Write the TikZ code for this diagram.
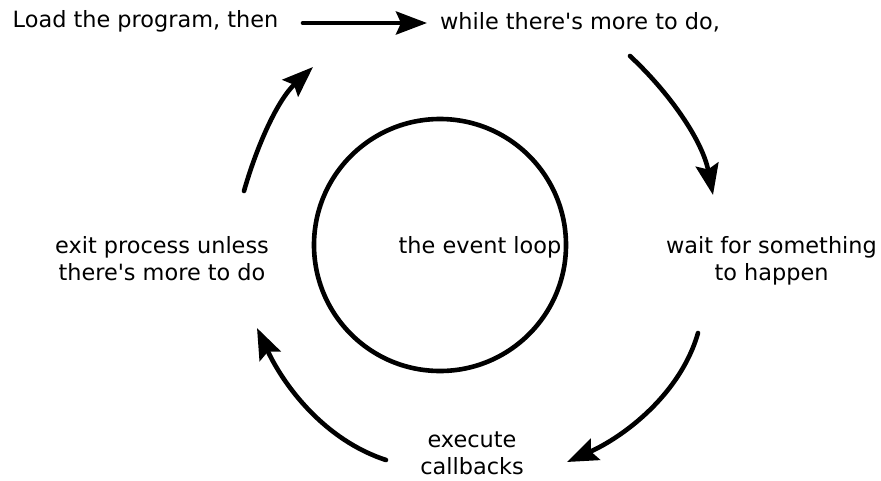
\documentclass[tikz,border=0pt]{standalone}
\usepackage{fontspec}
\setmainfont{DejaVu Sans}[Ligatures=TeXOff]
\usetikzlibrary{arrows.meta}

\begin{document}
\begin{tikzpicture}[y=1pt, x=1pt, yscale=-1, inner sep=0pt, outer sep=0pt,
  steplabel/.style={anchor=base, align=center,
    font=\fontsize{22.4}{27}\selectfont},
  looparrow/.style={line width=4.6pt, line cap=round,
    -{Stealth[length=31pt, width=23pt, inset=5pt]}}]
\useasboundingbox (0,0) rectangle (881,480);
\path (440,245) node[draw, circle, line width=4.6pt, minimum size=252pt] (loop) {};
\path (480,253) node[steplabel] (looptext) {the event loop};
\path (145.5,27) node[steplabel] (load) {Load the program, then};
\path (580,29) node[steplabel] (while) {while there's more to do,};
\path (771.5,280) node[steplabel] (wait) {wait for something\\to happen};
\path (472,474) node[steplabel] (execute) {execute\\callbacks};
\path (162,280) node[steplabel] (exit) {exit process unless\\there's more to do};
% arrow end points
\coordinate (a1) at (303,23);   \coordinate (b1) at (427,23);
\coordinate (a2) at (630,56);   \coordinate (b2) at (713,195);
\coordinate (a3) at (698,333);  \coordinate (b3) at (567,462);
\coordinate (a4) at (386,460);  \coordinate (b4) at (257,328);
\coordinate (a5) at (244,191);  \coordinate (b5) at (313,67);
\draw[looparrow] (a1) -- (b1);
\draw[looparrow] (a2) to[out=43, in=259, looseness=0.87] (b2);
\draw[looparrow] (a3) to[out=106, in=336, looseness=0.88] (b3);
\draw[looparrow] (a4) to[out=198, in=65, looseness=0.89] (b4);
\draw[looparrow] (a5) to[out=286, in=137, looseness=0.87] (b5);
\end{tikzpicture}
\end{document}
